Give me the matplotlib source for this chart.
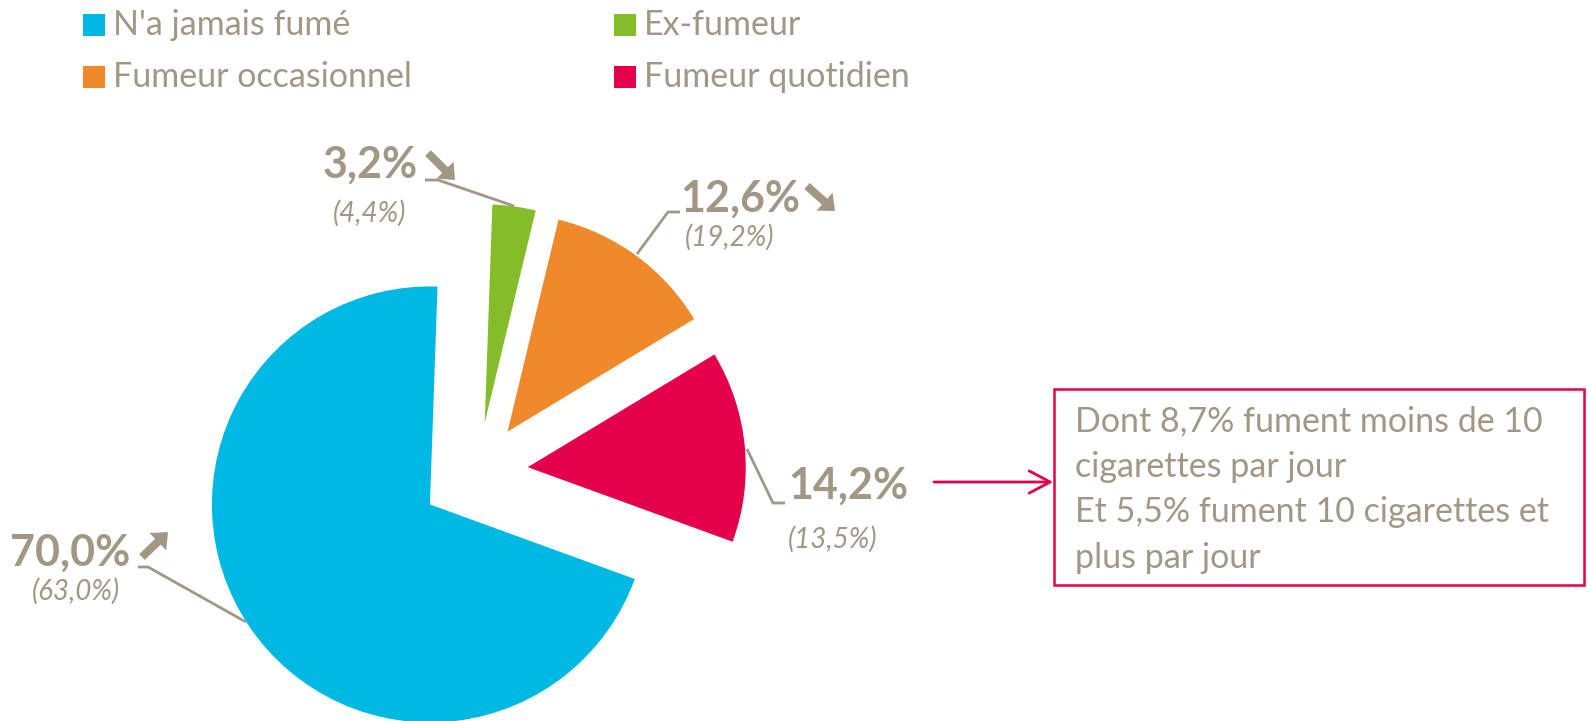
import matplotlib
matplotlib.use("Agg")
import matplotlib.pyplot as plt
from matplotlib.patches import Rectangle, FancyArrow

# données
categories = ["N'a jamais fumé", "Fumeur quotidien", "Fumeur occasionnel", "Ex-fumeur"]
valeurs = [70.0, 14.2, 12.6, 3.2]
valeurs_avant = [63.0, 13.5, 19.2, 4.4]
couleurs = ["#00B9E3", "#E5004B", "#F0892B", "#84BC2A"]
legende_ordre = ["N'a jamais fumé", "Ex-fumeur", "Fumeur occasionnel", "Fumeur quotidien"]
note = ("Dont 8,7% fument moins de 10\ncigarettes par jour\n"
        "Et 5,5% fument 10 cigarettes et\nplus par jour")

GRIS = "#A19784"
ROUGE = "#E5004B"
W, H = 1588, 721

plt.rcParams['font.family'] = ['Lato', 'DejaVu Sans']

fig = plt.figure(figsize=(W / 100, H / 100), dpi=100)
ax = fig.add_axes([0, 0, 1, 1])


def Y(y):
    # coordonnées écran (y vers le bas) -> coordonnées axe
    return H - y


# explode en unités de données (pixels ici)
ax.pie(valeurs, colors=couleurs, startangle=88, counterclock=True,
       explode=[58, 50, 50, 50], radius=218, center=(478, Y(472)),
       wedgeprops=dict(linewidth=0))
ax.set_xlim(0, W)
ax.set_ylim(0, H)
ax.set_aspect('equal')
ax.axis('off')

# légende
leg_pos = [(83, 14), (614, 14), (83, 66), (614, 66)]
for nom, (lx, ly) in zip(legende_ordre, leg_pos):
    c = couleurs[categories.index(nom)]
    ax.add_patch(Rectangle((lx, Y(ly + 22)), 22, 22, color=c, lw=0))
    ax.text(lx + 30, Y(ly + 11), nom, fontsize=24.5, color=GRIS,
            va='center', ha='left')


def fmt(v):
    return f"{v:.1f}%".replace(".", ",")


# étiquettes : (x, baseline) valeur, (x, baseline) valeur précédente
lab = {
    "N'a jamais fumé": ((130, 566), (76, 600)),
    "Fumeur quotidien": ((908, 499), (833, 548)),
    "Fumeur occasionnel": ((800, 212), (730, 246)),
    "Ex-fumeur": ((418, 178), (370, 222)),
}
for i, nom in enumerate(categories):
    (bx, by), (ix, iy) = lab[nom]
    ax.text(bx, Y(by), fmt(valeurs[i]), fontsize=31, fontweight='bold',
            color=GRIS, ha='right', va='baseline')
    ax.text(ix, Y(iy), "(" + fmt(valeurs_avant[i]) + ")", fontsize=20,
            style='italic', color=GRIS, ha='center', va='baseline')

# lignes de rappel
leaders = [
    [(425, 180), (438, 180), (514, 206)],
    [(680, 212), (668, 212), (637, 254)],
    [(785, 503), (773, 503), (747, 449)],
    [(138, 567), (148, 567), (246, 622)],
]
for pts in leaders:
    ax.plot([p[0] for p in pts], [Y(p[1]) for p in pts], color=GRIS, lw=2,
            solid_capstyle='butt')

# flèches de tendance
for (x0, y0), (x1, y1) in [((428, 153), (455, 180)),
                           ((807, 186), (835, 211)),
                           ((142, 557), (168, 532))]:
    ax.add_patch(FancyArrow(x0, Y(y0), x1 - x0, Y(y1) - Y(y0), width=8,
                            head_width=24, head_length=14,
                            length_includes_head=True, color=GRIS, lw=0))

# flèche rouge + encadré
ax.annotate("", xy=(1053, Y(482)), xytext=(934, Y(482)),
            arrowprops=dict(arrowstyle='->,head_length=1.5,head_width=0.8',
                            color=ROUGE, lw=2, shrinkA=0, shrinkB=0))
ax.add_patch(Rectangle((1054, Y(585)), 1584 - 1054, 585 - 389, fill=False,
                       edgecolor=ROUGE, lw=1.8))
ax.text(1075, Y(405), note, fontsize=24.5, color=GRIS, ha='left', va='top',
        linespacing=1.52)

fig.savefig("out.png", dpi=100)
